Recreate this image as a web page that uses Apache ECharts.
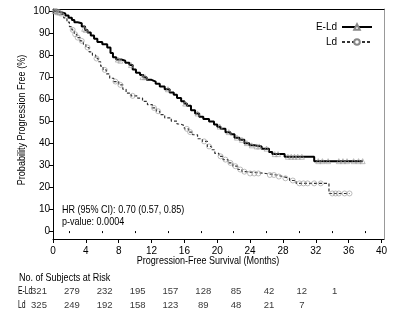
<!DOCTYPE html>
<html><head><meta charset="utf-8">
<script src="https://cdn.jsdelivr.net/npm/echarts@6/dist/echarts.min.js"></script>
<style>html,body{margin:0;padding:0;background:#fff}#c{width:400px;height:321px}</style>
</head><body><div id="c"></div>
<script>
const FONT = "'Liberation Sans',Arial,sans-serif";
const xTicks = [0,4,8,12,16,20,24,28,32,36,40];
const xMinorTicks = [2,6,10,14,18,22,26,30,34,38];
const yTicks = [0,10,20,30,40,50,60,70,80,90,100];
const seriesNames = ['E-Ld','Ld'];
const eldCurve = [[0,100],[0.5,99.5],[1.0,99],[1.5,98],[1.9,97],[2.3,96],[2.6,95],[3.0,94.5],[3.5,93],[3.9,91.5],[4.2,90.3],[4.6,89],[5.0,87.5],[5.4,86],[6.0,85],[6.6,83.5],[7.0,81],[7.3,79],[7.7,78],[8.3,77.5],[8.8,76.5],[9.3,75.5],[9.7,73.5],[10.1,72],[10.6,71],[11.0,70],[11.4,68.8],[12.0,68],[12.5,67],[13.0,65.8],[13.6,64.5],[14.2,63],[14.7,62],[15.1,60.5],[15.6,59],[16.0,58],[16.3,57],[16.8,55],[17.3,53.5],[17.8,52],[18.3,51],[19.0,49.8],[19.6,48.5],[20.0,47.5],[20.4,46.5],[21.0,45],[21.6,44],[22.1,42.5],[22.7,41.5],[23.3,40],[23.9,39],[24.5,38.5],[25.4,37.5],[26.3,36],[26.7,35],[28.2,33.8],[31.8,31.8],[37.7,31.8]];
const ldCurve = [[0,100],[0.5,99.5],[0.9,98.5],[1.3,97],[1.7,95],[2.0,93],[2.3,91.5],[2.6,89.5],[2.9,88],[3.3,86.5],[3.7,85],[4.0,83.5],[4.4,81.5],[4.8,80],[5.2,78.5],[5.5,77],[5.8,75],[6.1,73.3],[6.5,71.5],[6.9,69.5],[7.4,68],[8.0,66.5],[8.5,64.5],[8.9,62.7],[9.5,61.5],[10.3,60.5],[10.9,59],[11.5,57.5],[12.1,56],[12.6,54.5],[13.0,53],[13.6,51.5],[14.4,50],[15.1,48.7],[15.5,48],[16.0,46.5],[16.5,45],[17.0,43.8],[17.6,42],[18.2,40.8],[18.8,38.5],[19.3,37],[19.7,35.3],[20.2,34],[20.7,32.5],[21.3,31],[21.9,29.5],[22.5,28],[23.0,27],[23.5,26.2],[25.9,25.5],[27.2,24.8],[28.0,24],[28.8,23],[29.6,21.7],[33.6,17.1],[36.1,17.1]];
const eldCensor = [[0.2,100],[0.4,100],[0.6,99.5],[0.8,99.5],[1.1,99],[3.8,92],[4.0,91.5],[7.9,78],[8.2,77.5],[9.5,75.5],[10.9,70],[11.2,70],[14.0,64.5],[16.1,58],[17.6,53.5],[20.3,47.5],[21.4,45],[22.4,42.5],[23.0,41.5],[23.6,40],[24.2,39],[24.8,38.5],[25.1,38.5],[26.0,37.5],[27.0,35],[27.4,35],[28.6,33.8],[29.0,33.8],[29.4,33.8],[29.8,33.8],[30.3,33.8],[32.3,31.8],[32.8,31.8],[33.5,31.8],[34.8,31.8],[35.3,31.8],[35.8,31.8],[36.6,31.8],[37.2,31.8],[37.7,31.8]];
const ldCensor = [[0.2,100],[0.4,100],[0.7,99.5],[2.4,91.5],[2.7,89.5],[3.0,88],[3.5,86.5],[4.2,83.5],[5.3,78.5],[6.3,73.3],[7.6,68],[8.2,66.5],[9.7,61.5],[12.3,56],[12.8,54.5],[16.3,46.5],[16.7,45],[18.4,40.8],[19.0,38.5],[20.4,34],[21.0,32.5],[21.6,31],[22.2,29.5],[22.8,28],[23.3,27],[24.0,26.2],[24.5,26.2],[25.0,26.2],[26.4,25.5],[26.9,25.5],[27.5,24.8],[28.3,24],[29.2,23],[30.0,21.7],[30.5,21.7],[31.0,21.7],[31.8,21.7],[32.6,21.7],[34.0,17.1],[34.4,17.1],[34.8,17.1],[35.5,17.1],[36.1,17.1]];
const riskTimes = [0,4,8,12,16,20,24,28,32,36];
const riskEld = [321,279,232,195,157,128,85,42,12,1];
const riskLd = [325,249,192,158,123,89,48,21,7];
const hrText = 'HR (95% CI): 0.70 (0.57, 0.85)';
const pText = 'p-value: 0.0004';
const xTitle = 'Progression-Free Survival (Months)';
const yTitle = 'Probability Progression Free (%)';
const riskTitle = 'No. of Subjects at Risk';

const X_MIN = 0, X_MAX = 40.3, Y_MIN = -3.6, Y_MAX = 101;
const txt = {fontFamily: FONT, fontSize: 10, color: '#000'};
const riskTxt = {fontFamily: FONT, fontSize: 9.5, color: '#000'};
const SX = 0.82;
const gfont = '11px ' + FONT;
function gtext(text, x, y, sx, extra) {
  return Object.assign({type: 'text', x: x, y: y, scaleX: sx,
    style: {text: text, font: gfont, fill: '#000', textVerticalAlign: 'middle'}}, extra || {});
}

const chart = echarts.init(document.getElementById('c'), null, {renderer:'canvas'});
chart.setOption({
  animation: false,
  backgroundColor: '#fff',
  textStyle: {fontFamily: FONT},
  grid: [
    {left: 53, right: 16, top: 9, bottom: 82},
    {left: 53, right: 16, top: 284, height: 28}
  ],
  legend: {
    orient: 'vertical', right: 27, top: 22, align: 'right', padding: 0,
    itemWidth: 30, itemHeight: 7, itemGap: 5,
    data: seriesNames,
    textStyle: Object.assign({}, txt, {width: 20, padding:[0,0,0,0]})
  },
  xAxis: [
    {gridIndex: 0, type: 'value', min: X_MIN, max: X_MAX, position: 'bottom',
     axisLine: {show: true, onZero: false, lineStyle: {color: '#000', width: 1}},
     axisTick: {show: true, length: 4, customValues: xTicks, lineStyle:{color:'#000'}},
     axisLabel: {show: true, customValues: xTicks, margin: 7, ...txt},
     splitLine: {show: false}},
    {gridIndex: 0, type: 'value', min: X_MIN, max: X_MAX, position: 'bottom',
     axisLine: {show: false}, axisLabel: {show: false}, splitLine: {show: false},
     axisTick: {show: true, length: 2, customValues: xMinorTicks, lineStyle:{color:'#000'}}},
    {gridIndex: 0, type: 'value', min: X_MIN, max: X_MAX, position: 'top',
     axisLine: {show: true, onZero: false, lineStyle: {color: '#000', width: 1}},
     axisTick: {show: false}, axisLabel: {show: false}, splitLine: {show: false}},
    {gridIndex: 1, type: 'value', min: X_MIN, max: X_MAX, show: false}
  ],
  yAxis: [
    {gridIndex: 0, type: 'value', min: Y_MIN, max: Y_MAX, position: 'left',
     axisLine: {show: true, onZero: false, lineStyle: {color: '#000', width: 1}},
     axisTick: {show: true, length: 4, customValues: yTicks, lineStyle:{color:'#000'}},
     axisLabel: {show: true, customValues: yTicks, margin: 3, ...txt},
     splitLine: {show: false}},
    {gridIndex: 0, type: 'value', min: Y_MIN, max: Y_MAX, position: 'right',
     axisLine: {show: true, onZero: false, lineStyle: {color: '#999', width: 1}},
     axisTick: {show: false}, axisLabel: {show: false}, splitLine: {show: false}},
    {gridIndex: 1, type: 'category', data: ['Ld','E-Ld'], show: false}
  ],
  series: [
    {name: 'E-Ld', type: 'line', xAxisIndex: 0, yAxisIndex: 0, step: 'end', data: eldCurve,
     showSymbol: false, symbol: 'emptyTriangle', symbolSize: 5,
     itemStyle: {color: '#888'}, lineStyle: {color: '#000', width: 2}, z: 3},
    {name: 'Ld', type: 'line', xAxisIndex: 0, yAxisIndex: 0, step: 'end', data: ldCurve,
     showSymbol: false, symbol: 'emptyCircle', symbolSize: 5,
     itemStyle: {color: '#888'}, lineStyle: {color: '#333', width: 1.2, type: [3,2]}, z: 3},
    {name: 'E-Ld censored', type: 'scatter', xAxisIndex: 0, yAxisIndex: 0, data: eldCensor,
     symbol: 'triangle', symbolSize: 5, itemStyle: {color: 'rgba(0,0,0,0)', borderColor: '#999', borderWidth: 0.8}, z: 4},
    {name: 'Ld censored', type: 'scatter', xAxisIndex: 0, yAxisIndex: 0, data: ldCensor,
     symbol: 'circle', symbolSize: 5, itemStyle: {color: 'rgba(0,0,0,0)', borderColor: '#999', borderWidth: 0.8}, z: 4},
    {name: 'risk E-Ld', type: 'scatter', xAxisIndex: 3, yAxisIndex: 2,
     data: riskEld.map((v,i)=>[riskTimes[i], 'E-Ld', v]), symbolSize: 0,
     label: {show: true, position: 'inside', offset: [-14, 0], formatter: p => p.value[2], ...riskTxt}},
    {name: 'risk Ld', type: 'scatter', xAxisIndex: 3, yAxisIndex: 2,
     data: riskLd.map((v,i)=>[riskTimes[i], 'Ld', v]), symbolSize: 0,
     label: {show: true, position: 'inside', offset: [-14, 0], formatter: p => p.value[2], ...riskTxt}}
  ],
  graphic: [
    gtext(hrText, 62, 210, SX),
    gtext(pText, 62, 222, SX),
    gtext(riskTitle, 19, 278, SX),
    gtext('E-Ld', 18, 291, 0.62),
    gtext('Ld', 18, 305, 0.62),
    gtext(xTitle, 208, 261, SX, {style: {text: xTitle, font: gfont, fill: '#000', textAlign: 'center', textVerticalAlign: 'middle'}}),
    gtext(yTitle, 22, 120, SX, {rotation: Math.PI/2, style: {text: yTitle, font: gfont, fill: '#000', textAlign: 'center', textVerticalAlign: 'middle'}})
  ]
});
</script></body></html>
